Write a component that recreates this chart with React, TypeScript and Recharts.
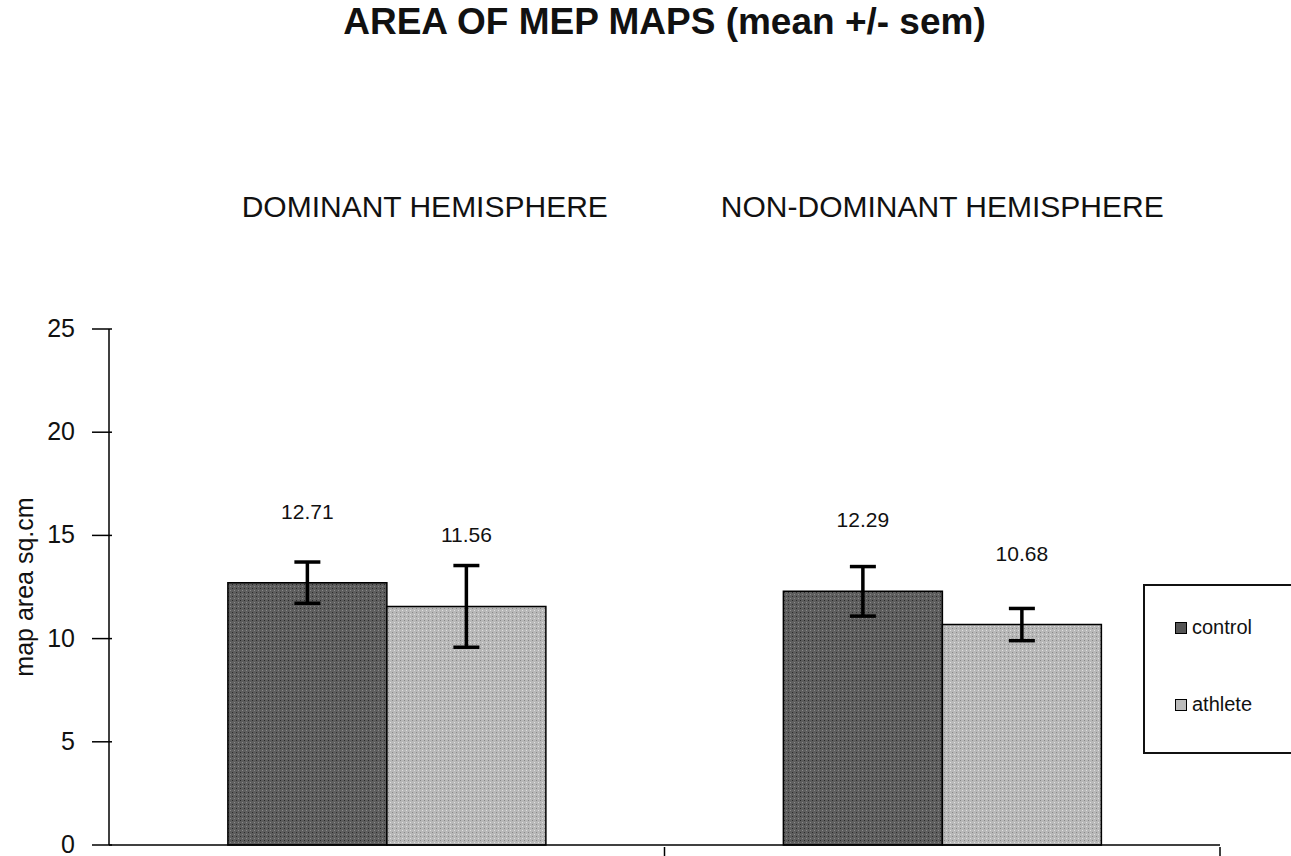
import React from "react";
import { BarChart, Bar, XAxis, YAxis, ErrorBar, LabelList, Legend } from "recharts";

const categories = ["DOMINANT HEMISPHERE", "NON-DOMINANT HEMISPHERE"];
const controlMeans = [12.71, 12.29];
const athleteMeans = [11.56, 10.68];
const controlSem = [1.0, 1.2];
const athleteSem = [1.98, 0.78];
const yTicks = [0, 5, 10, 15, 20, 25];

const data = categories.map((c, i) => ({
  category: c,
  control: controlMeans[i],
  athlete: athleteMeans[i],
  controlErr: controlSem[i],
  athleteErr: athleteSem[i],
}));

const W = 1291;
const H = 856;
const AXIS_W = 109;
const RIGHT = 71;
const FONT = "'Liberation Sans', Arial, sans-serif";
const HALF_BAND = (W - AXIS_W - RIGHT) / categories.length / 2;
const CAT_LABEL_DX = [38, 0];

const YTick = (props: any) => {
  const { x, y, payload } = props;
  return (
    <g>
      <line x1={x - 9} x2={x + 11} y1={y} y2={y} stroke="#000" strokeWidth={1.5} />
      <text x={x - 26} y={y} dy={8} textAnchor="end" fontSize={25} fontFamily={FONT} fill="#111">
        {payload.value}
      </text>
    </g>
  );
};

const BottomTick = (props: any) => {
  const { x, y } = props;
  return <line x1={x + HALF_BAND} x2={x + HALF_BAND} y1={y - 6} y2={y + 4} stroke="#000" strokeWidth={1.5} />;
};

const TopTick = (props: any) => {
  const { x, y, payload, index } = props;
  return (
    <text x={x + (CAT_LABEL_DX[index] || 0)} y={y - 104} textAnchor="middle" fontSize={30} fontFamily={FONT} fill="#111">
      {payload.value}
    </text>
  );
};

const ValueLabel = (props: any) => {
  const { x, y, width, value } = props;
  return (
    <text x={x + width / 2} y={y - 64} textAnchor="middle" fontSize={21} fontFamily={FONT} fill="#111">
      {Number(value).toFixed(2)}
    </text>
  );
};

const LegendBox = () => (
  <div
    style={{
      width: 148,
      height: 170,
      border: "2px solid #111",
      borderRight: "none",
      background: "#fff",
      fontFamily: FONT,
      fontSize: 20,
      color: "#111",
      boxSizing: "border-box",
      position: "relative",
    }}
  >
    <div style={{ position: "absolute", left: 30, top: 30, display: "flex", alignItems: "center" }}>
      <span style={{ display: "inline-block", width: 10, height: 10, background: "#555", border: "1px solid #000", marginRight: 5 }} />
      control
    </div>
    <div style={{ position: "absolute", left: 30, top: 107, display: "flex", alignItems: "center" }}>
      <span style={{ display: "inline-block", width: 10, height: 10, background: "#bbb", border: "1px solid #000", marginRight: 5 }} />
      athlete
    </div>
  </div>
);

export default function App() {
  return (
    <div style={{ position: "absolute", left: 0, top: 0, width: W, height: H, background: "#fff", overflow: "hidden" }}>
      <div
        style={{
          position: "absolute",
          left: 19,
          top: 1,
          width: W,
          textAlign: "center",
          fontFamily: FONT,
          fontWeight: "bold",
          fontSize: 37,
          color: "#111",
        }}
      >
        AREA OF MEP MAPS (mean +/- sem)
      </div>
      <BarChart
        width={W}
        height={H}
        data={data}
        margin={{ top: 209, right: RIGHT, bottom: 2, left: 0 }}
        barCategoryGap="21.4%"
        barGap={0}
      >
        <defs>
          <pattern id="darkPat" width="4" height="4" patternUnits="userSpaceOnUse">
            <rect width="4" height="4" fill="#5e5e5e" />
            <rect width="1" height="1" fill="#2a2a2a" />
            <rect x="2" y="2" width="1" height="1" fill="#8a8a8a" />
          </pattern>
          <pattern id="lightPat" width="4" height="4" patternUnits="userSpaceOnUse">
            <rect width="4" height="4" fill="#b8b8b8" />
            <rect width="1" height="1" fill="#888" />
            <rect x="2" y="2" width="1" height="1" fill="#e0e0e0" />
          </pattern>
        </defs>
        <XAxis
          dataKey="category"
          xAxisId="bottom"
          height={9}
          axisLine={{ stroke: "#000", strokeWidth: 1.5 }}
          tickLine={false}
          tick={<BottomTick />}
          interval={0}
        />
        <XAxis
          dataKey="category"
          xAxisId="top"
          orientation="top"
          height={120}
          axisLine={false}
          tickLine={false}
          tick={<TopTick />}
          interval={0}
        />
        <YAxis
          width={AXIS_W}
          domain={[0, 25]}
          ticks={yTicks}
          axisLine={{ stroke: "#000", strokeWidth: 1.5 }}
          tickLine={false}
          tick={<YTick />}
          label={{
            value: "map area sq.cm",
            angle: -90,
            position: "insideLeft",
            dx: 19,
            dy: 0,
            style: { fontSize: 25, fontFamily: FONT, fill: "#111", textAnchor: "middle" },
          }}
        />
        <Legend
          layout="horizontal"
          verticalAlign="middle"
          align="center"
          content={<LegendBox />}
          wrapperStyle={{ position: "absolute", left: 1143, top: 584, width: 148 }}
        />
        <Bar xAxisId="bottom" dataKey="control" name="control" fill="url(#darkPat)" stroke="#000" strokeWidth={1.5} isAnimationActive={false}>
          <ErrorBar dataKey="controlErr" width={13} stroke="#000" strokeWidth={3.5} direction="y" />
          <LabelList dataKey="control" content={<ValueLabel />} />
        </Bar>
        <Bar xAxisId="bottom" dataKey="athlete" name="athlete" fill="url(#lightPat)" stroke="#000" strokeWidth={1.5} isAnimationActive={false}>
          <ErrorBar dataKey="athleteErr" width={13} stroke="#000" strokeWidth={3.5} direction="y" />
          <LabelList dataKey="athlete" content={<ValueLabel />} />
        </Bar>
      </BarChart>
    </div>
  );
}
